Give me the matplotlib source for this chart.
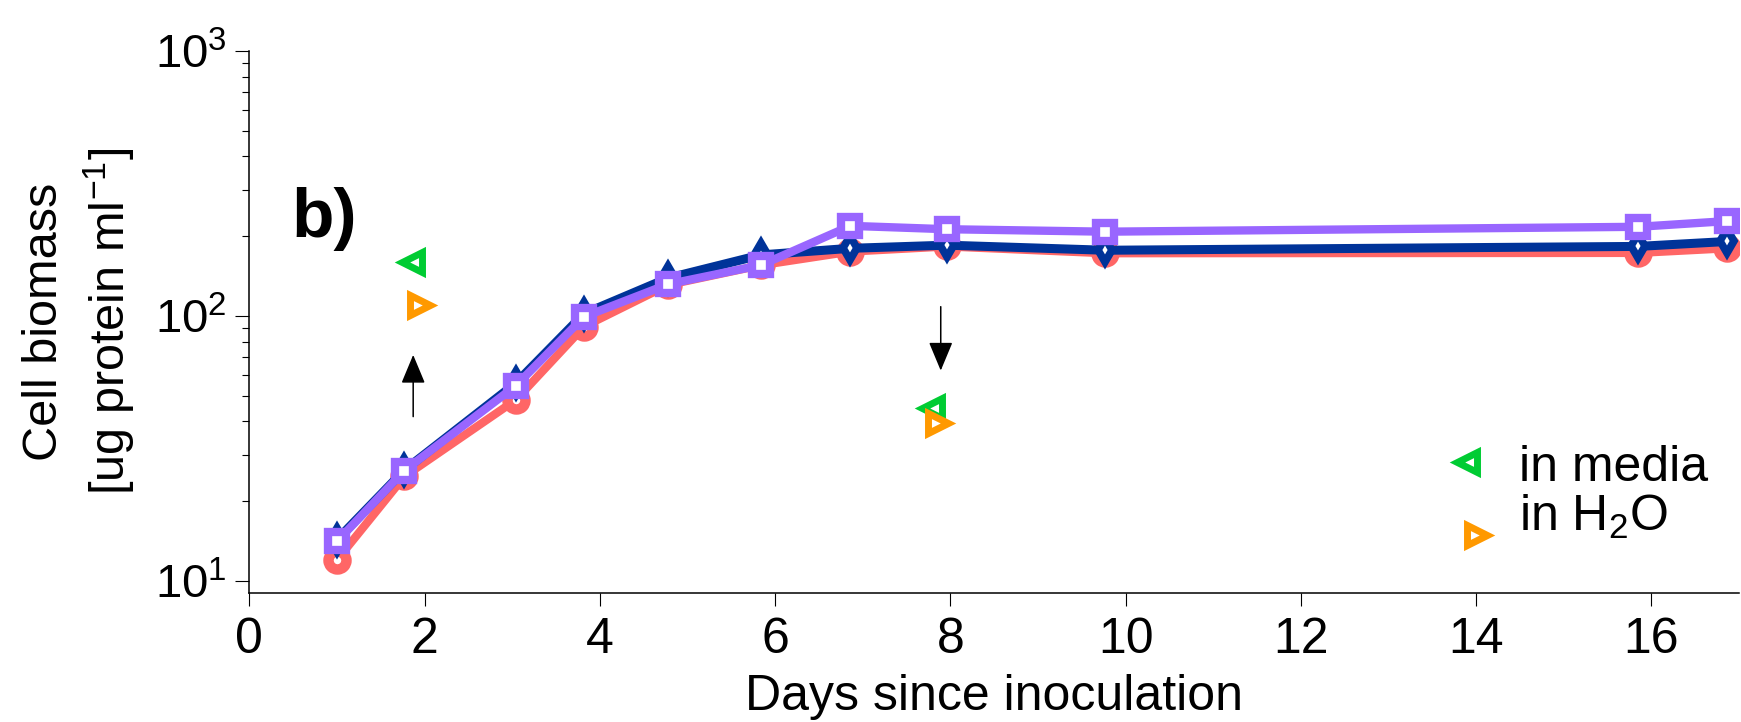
import matplotlib
matplotlib.use('Agg')
import matplotlib.pyplot as plt
from matplotlib.ticker import FixedLocator, FixedFormatter, LogLocator, NullFormatter

plt.rcParams['font.family'] = ['Liberation Sans', 'DejaVu Sans']
plt.rcParams['mathtext.fontset'] = 'custom'
plt.rcParams['mathtext.rm'] = 'Liberation Sans'
plt.rcParams['mathtext.it'] = 'Liberation Sans:italic'
plt.rcParams['mathtext.bf'] = 'Liberation Sans:bold'
plt.rcParams['mathtext.sf'] = 'Liberation Sans'

# ---- data ----
days = [1.0, 1.77, 3.04, 3.82, 4.78, 5.84, 6.86, 7.96, 9.77, 15.85, 16.86]
biomass_red = [12.0, 24.8, 48.2, 91.2, 131, 155.5, 175, 183, 172.5, 173, 180]
biomass_navy = [14.3, 26.2, 55.7, 102, 139, 170, 180, 185, 177, 183, 191]
biomass_purple = [14.1, 26.1, 54.5, 99.3, 131.8, 155.6, 218.8, 212.5, 208, 217, 228]

media_days = [1.86, 7.79]
media_biomass = [160, 45]
h2o_days = [1.95, 7.86]
h2o_biomass = [110, 39.5]

arrow_days = [1.87, 7.89]
arrow_from = [41.7, 108.4]
arrow_to = [71.3, 62.2]

xtick_values = [0, 2, 4, 6, 8, 10, 12, 14, 16]
ytick_values = [10, 100, 1000]
ytick_labels = [r'$10^{1}$', r'$10^{2}$', r'$10^{3}$']
legend_labels = ['in media', r'in H$_2$O']

# ---- styles ----
RED = '#FF6666'
NAVY = '#003399'
PURPLE = '#9966FF'
GREEN = '#00CC33'
ORANGE = '#FF9900'

fig = plt.figure(figsize=(17.41, 7.22), dpi=100)
ax = fig.add_axes([0.1432, 0.1791, 0.8557, 0.7503])

ax.plot(days, biomass_red, color=RED, lw=6, marker='o', ms=13,
        mfc='white', mec=RED, mew=7.5, zorder=3)
ax.plot(days, biomass_navy, color=NAVY, lw=6.5, marker='d', ms=12,
        mfc='white', mec=NAVY, mew=5.5, zorder=4)
ax.plot(days, biomass_purple, color=PURPLE, lw=6, marker='s', ms=12.5,
        mfc='white', mec=PURPLE, mew=6, zorder=5)

ax.plot(media_days, media_biomass, ls='none', marker='<', ms=14.4,
        mfc='white', mec=GREEN, mew=5, zorder=6)
ax.plot(h2o_days, h2o_biomass, ls='none', marker='>', ms=14.4,
        mfc='white', mec=ORANGE, mew=5, zorder=7)

for xd, y0, y1 in zip(arrow_days, arrow_from, arrow_to):
    ax.annotate('', xy=(xd, y1), xytext=(xd, y0),
                arrowprops=dict(arrowstyle='-|>,head_length=18,head_width=7.5',
                                mutation_scale=1, color='black', lw=1.1,
                                shrinkA=0, shrinkB=0))

ax.set_yscale('log')
ax.set_xlim(0, 17)
ax.set_ylim(9.03, 1000)

ax.xaxis.set_major_locator(FixedLocator(xtick_values))
ax.yaxis.set_major_locator(FixedLocator(ytick_values))
ax.yaxis.set_major_formatter(FixedFormatter(ytick_labels))
ax.yaxis.set_minor_locator(LogLocator(base=10, subs=range(2, 10)))
ax.yaxis.set_minor_formatter(NullFormatter())

for s in ['top', 'right']:
    ax.spines[s].set_visible(False)
for s in ['left', 'bottom']:
    ax.spines[s].set_linewidth(1.1)

ax.tick_params(axis='x', which='major', direction='out', length=9.4, width=0.8,
               pad=8, labelsize=36)
ax.tick_params(axis='y', which='major', direction='out', length=10, width=0.8,
               pad=6, labelsize=34)
ax.tick_params(axis='y', which='minor', direction='out', length=5, width=0.8)

ax.set_xlabel('Days since inoculation', fontsize=36)
ax.xaxis.set_label_coords(0.5, -0.2160)
ax.xaxis.label.set_va('baseline')

ax.set_ylabel('Cell biomass\n[ug protein ml$^{-1}$]', fontsize=35,
              multialignment='center', linespacing=1.35)
ax.yaxis.set_label_coords(-0.0754, 0.5)

ax.text(0.028, 0.657, 'b)', transform=ax.transAxes, fontsize=50,
        fontweight='bold', va='baseline', ha='left')

# legend (manual placement)
ax.plot([0.8173], [0.2418], transform=ax.transAxes, ls='none', marker='<', ms=14.4,
        mfc='white', mec=GREEN, mew=5, clip_on=False)
ax.plot([0.8240], [0.1064], transform=ax.transAxes, ls='none', marker='>', ms=14.4,
        mfc='white', mec=ORANGE, mew=5, clip_on=False)
ax.text(0.8523, 0.2065, legend_labels[0], transform=ax.transAxes, fontsize=36,
        va='baseline', ha='left')
ax.text(0.8523, 0.1138, legend_labels[1], transform=ax.transAxes, fontsize=36,
        va='baseline', ha='left')

fig.savefig('out.png', dpi=100)
